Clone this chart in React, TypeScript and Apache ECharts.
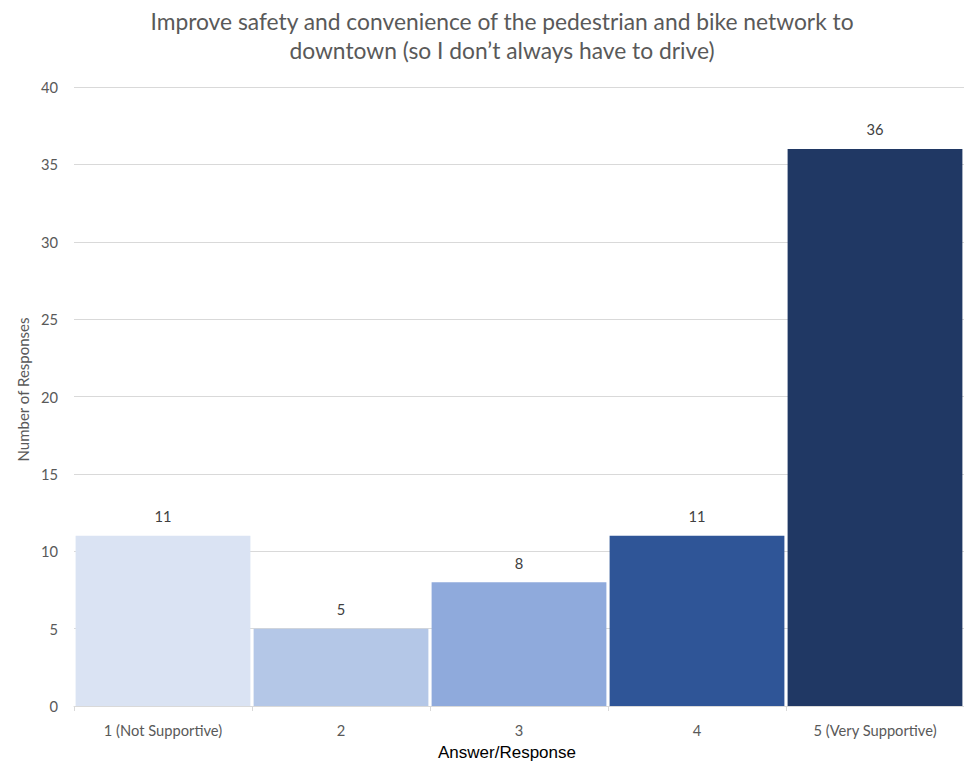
import React, { useEffect, useRef } from "react";
import * as echarts from "echarts";

const categories = ["1 (Not Supportive)", "2", "3", "4", "5 (Very Supportive)"];
const values = [11, 5, 8, 11, 36];
const barColors = ["#DAE3F3", "#B4C7E7", "#8FAADC", "#2F5597", "#203864"];
const titleLines = [
  "Improve safety and convenience of the pedestrian and bike network to",
  "downtown (so I don\u2019t always have to drive)",
];

export default function App() {
  const ref = useRef<HTMLDivElement>(null);
  useEffect(() => {
    if (!ref.current) return;
    const chart = echarts.init(ref.current, null, { renderer: "svg" });
    const font = "Lato, 'Open Sans', sans-serif";
    chart.setOption({
      animation: false,
      graphic: [
        {
          type: "text",
          x: 502,
          y: 6,
          style: {
            text: titleLines.join("\n"),
            fill: "#595959",
            font: `22.8px ${font}`,
            lineHeight: 29,
            align: "center",
            verticalAlign: "top",
          },
        },
      ],
      grid: { left: 74, top: 87, right: -5, bottom: 57, containLabel: false },
      xAxis: {
        type: "category",
        data: categories,
        name: "Answer/Response",
        nameLocation: "middle",
        nameGap: 38,
        nameTextStyle: {
          color: "#000000",
          fontSize: 17,
          fontFamily: "Liberation Sans, Arial, sans-serif",
          padding: [0, 24, 0, 0],
        },
        axisLine: { lineStyle: { color: "#D9D9D9", width: 1 } },
        axisTick: { show: true, lineStyle: { color: "#D9D9D9" }, length: 5 },
        axisLabel: { color: "#595959", fontSize: 14.7, fontFamily: font, margin: 16 },
      },
      yAxis: {
        type: "value",
        min: 0,
        max: 40,
        interval: 5,
        name: "Number of Responses",
        nameLocation: "middle",
        nameGap: 32,
        nameTextStyle: { color: "#595959", fontSize: 15, fontFamily: font, padding: [0, 0, 0, 14] },
        axisLine: { show: false },
        axisTick: { show: false },
        axisLabel: { color: "#595959", fontSize: 14.7, fontFamily: font, margin: 16 },
        splitLine: { lineStyle: { color: "#D9D9D9", width: 1 } },
      },
      series: [
        {
          type: "bar",
          data: values.map((v, i) => ({ value: v, itemStyle: { color: barColors[i] } })),
          barCategoryGap: "1.8%",
          label: {
            show: true,
            position: "top",
            distance: 12,
            color: "#404040",
            fontSize: 14.7,
            fontFamily: font,
          },
        },
      ],
    });
    return () => chart.dispose();
  }, []);
  return (
    <div
      ref={ref}
      style={{ position: "fixed", left: 0, top: 0, width: 964, height: 766, background: "#ffffff" }}
    />
  );
}
